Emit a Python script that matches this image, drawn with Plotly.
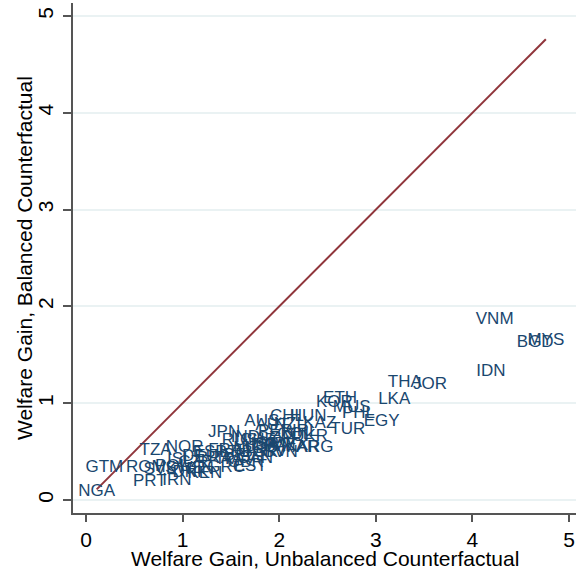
import plotly.graph_objects as go

# country codes with unbalanced / balanced welfare gains
countries = ["NGA", "GTM", "PRT", "IRN", "ROM", "SVK", "TZA", "NOR", "POL", "SWE",
             "KEN", "DNK", "FIN", "CZE", "GRC", "ISL", "DEU", "BRA", "ITA", "ESP",
             "FRA", "BEL", "GBR", "CAN", "NLD", "USA", "IND", "JPN", "RUS", "CHE",
             "ISR", "SGP", "PAK", "MEX", "MAR", "ARG", "ZAF", "COL", "PER", "AUS",
             "AUT", "NZL", "KAZ", "IRL", "UKR", "BGR", "HRV", "SVN", "LTU", "EST",
             "TUR", "CHL", "HUN", "ETH", "KOR", "MUS", "PHL", "EGY", "LKA", "THA",
             "JOR", "IDN", "VNM", "BGD", "MYS"]
unbalanced = [0.11, 0.19, 0.66, 0.94, 0.62, 0.77, 0.72, 1.02, 0.89, 1.02,
              1.23, 1.08, 1.18, 1.13, 1.45, 0.97, 1.18, 1.33, 1.49, 1.28,
              1.44, 1.59, 1.65, 1.75, 1.70, 1.82, 1.65, 1.43, 1.59, 1.78,
              1.85, 1.96, 2.01, 2.11, 2.22, 2.37, 2.06, 2.16, 1.96, 1.82,
              1.93, 2.11, 2.42, 2.27, 2.32, 1.80, 1.90, 2.01, 1.54, 1.70,
              2.71, 2.08, 2.30, 2.63, 2.57, 2.75, 2.82, 3.06, 3.19, 3.30,
              3.56, 4.19, 4.23, 4.65, 4.76]
balanced = [0.09, 0.33, 0.19, 0.20, 0.33, 0.31, 0.51, 0.54, 0.34, 0.32,
            0.27, 0.28, 0.31, 0.38, 0.33, 0.42, 0.45, 0.43, 0.42, 0.49,
            0.51, 0.46, 0.38, 0.43, 0.53, 0.55, 0.64, 0.69, 0.61, 0.61,
            0.57, 0.63, 0.55, 0.56, 0.54, 0.54, 0.63, 0.67, 0.71, 0.81,
            0.77, 0.78, 0.79, 0.71, 0.65, 0.49, 0.50, 0.49, 0.49, 0.34,
            0.73, 0.86, 0.86, 1.05, 1.01, 0.95, 0.89, 0.81, 1.04, 1.21,
            1.19, 1.32, 1.86, 1.62, 1.65]

tick_vals = [0, 1, 2, 3, 4, 5]

navy = "#1a476f"
maroon = "#90353b"

fig = go.Figure()

# 45 degree line over the range of the data
lo = min(unbalanced)
hi = max(unbalanced)
fig.add_trace(go.Scatter(x=[lo, hi], y=[lo, hi], mode="lines",
                         line=dict(color=maroon, width=2), hoverinfo="skip"))

fig.add_trace(go.Scatter(x=unbalanced, y=balanced, mode="text", text=countries,
                         textposition="middle center",
                         textfont=dict(family="Liberation Sans", size=17, color=navy)))

fig.update_layout(
    width=576, height=569,
    margin=dict(l=73, r=0, t=3, b=56),
    paper_bgcolor="white", plot_bgcolor="white",
    showlegend=False,
    font=dict(family="Liberation Sans", color="black"),
)
fig.update_xaxes(range=[-0.135, 5.072], tickvals=tick_vals, showgrid=False,
                 zeroline=False, showline=True, linecolor="#555555", linewidth=1.5,
                 ticks="outside", ticklen=7, tickwidth=1.5, tickcolor="#555555",
                 tickfont=dict(size=21), automargin=False)
fig.update_yaxes(range=[-0.134, 5.134], tickvals=tick_vals, showgrid=True,
                 gridcolor="#eaf2f3", gridwidth=1.5, zeroline=False,
                 showline=True, linecolor="#555555", linewidth=1.5,
                 ticks="outside", ticklen=8, tickwidth=1.5, tickcolor="#555555",
                 tickangle=-90, tickfont=dict(size=21), ticklabelstandoff=2,
                 automargin=False)

# axis titles
fig.add_annotation(text="Welfare Gain, Unbalanced Counterfactual",
                   xref="paper", yref="paper", x=0.5, y=0, yshift=-45,
                   showarrow=False, font=dict(size=21), yanchor="middle")
fig.add_annotation(text="Welfare Gain, Balanced Counterfactual",
                   xref="paper", yref="paper", x=0, y=0.5, xshift=-49,
                   showarrow=False, font=dict(size=21), textangle=-90,
                   xanchor="center", yanchor="middle")

# page has a default 8px body margin, drop it so the figure fills the window
fig.write_html("out.html", config={"displayModeBar": False},
               post_script="document.body.style.margin='0';")
